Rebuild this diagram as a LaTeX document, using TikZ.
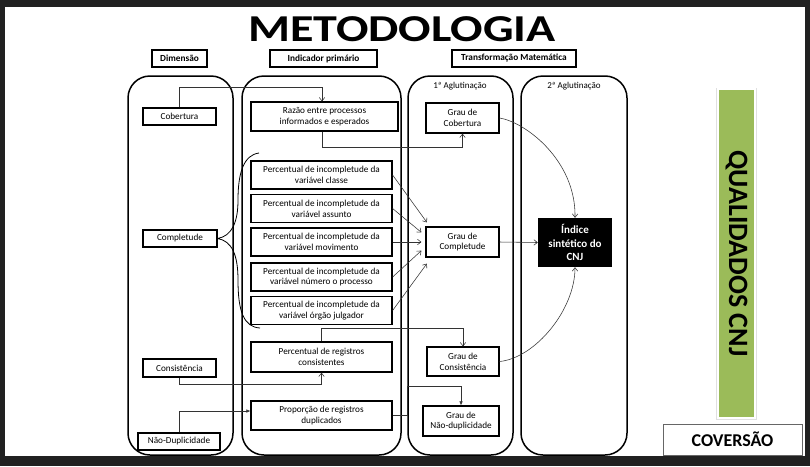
\documentclass[tikz,border=0pt]{standalone}
\usepackage{fontspec}
\usepackage{graphicx}
\setmainfont{Carlito}
\usetikzlibrary{arrows.meta,calc}
\definecolor{barg}{HTML}{9BBB59}
\tikzset{
 bx/.style={draw, line width=1.2pt, fill=white, align=center, inner sep=0pt, font=\fontsize{9.2}{10.8}\selectfont},
 hd/.style={draw, line width=1.2pt, inner sep=0pt, font=\bfseries\fontsize{9.3}{10}\selectfont, minimum height=17pt},
 col/.style={draw, line width=1.5pt, rounded corners=22pt},
 cn/.style={line width=0.55pt, draw=black!80},
 ar/.style={cn, -{Straight Barb[length=3.5pt,width=5.5pt]}},
 arf/.style={cn, -{Latex[length=4pt,width=3.5pt]}},
 lbl/.style={inner sep=0pt, font=\fontsize{9}{10}\selectfont},
}
\begin{document}
\begin{tikzpicture}[x=1pt,y=-1pt]
\useasboundingbox (0,0) rectangle (810,466);
\fill[black!87] (0,0) rectangle (810,466);
\fill[white] (5,7) rectangle (805,456);

% title
\node[inner sep=0pt, anchor=base, font=\bfseries] (title) at (402,41) {\scalebox{1.265}[1]{\fontsize{38}{38}\selectfont METODOLOGIA}};

% headers
\node[hd, minimum width=55pt] (hdim) at (179.5,58.5) {Dimensão};
\node[hd, minimum width=107pt] (hind) at (323.5,58.5) {Indicador primário};
\node[hd, minimum width=124pt] (htm) at (514,58.5) {Transformação Matemática};

% columns
\draw[col] (128,76) rectangle (233,455);
\draw[col] (242,76) rectangle (401,455);
\draw[col] (408,76) rectangle (513,455);
\draw[col] (521,76) rectangle (627,455);
\node[lbl] (ag1) at (460,86) {1ª Aglutinação};
\node[lbl] (ag2) at (574,86) {2ª Aglutinação};

% column 1
\node[bx, minimum width=73pt, minimum height=17pt] (cob) at (179.5,116.5) {Cobertura};
\node[bx, minimum width=74pt, minimum height=17pt] (compl) at (180,238.5) {Completude};
\node[bx, minimum width=73pt, minimum height=18pt] (cons) at (179.5,368) {Consistência};
\node[bx, minimum width=82pt, minimum height=17pt] (ndup) at (179,441.5) {Não-Duplicidade};

% column 2
\node[bx, minimum width=147pt, minimum height=29pt] (razao) at (324.5,116.5) {Razão entre processos\\informados e esperados};
\node[bx, minimum width=141pt, minimum height=28pt] (p1) at (321.5,175) {Percentual de incompletude da\\variável classe};
\node[bx, minimum width=141pt, minimum height=28pt] (p2) at (321.5,208.5) {Percentual de incompletude da\\variável assunto};
\node[bx, minimum width=141pt, minimum height=28pt] (p3) at (321.5,242) {Percentual de incompletude da\\variável movimento};
\node[bx, minimum width=141pt, minimum height=28pt] (p4) at (321.5,277) {Percentual de incompletude da\\variável número o processo};
\node[bx, minimum width=141pt, minimum height=28pt] (p5) at (321.5,310.5) {Percentual de incompletude da\\variável órgão julgador};
\node[bx, minimum width=141pt, minimum height=30pt] (pcons) at (321.5,357) {Percentual de registros\\consistentes};
\node[bx, minimum width=141pt, minimum height=29pt] (prop) at (321.5,415.5) {Proporção de registros\\duplicados};

% column 3
\node[bx, minimum width=73pt, minimum height=30pt] (gcob) at (462.5,118) {Grau de\\Cobertura};
\node[bx, minimum width=73pt, minimum height=30pt] (gcomp) at (462.5,242) {Grau de\\Completude};
\node[bx, minimum width=72pt, minimum height=29pt] (gcons) at (463,361.5) {Grau de\\Consistência};
\node[bx, minimum width=76pt, minimum height=30pt] (gndup) at (461,421) {Grau de\\Não-duplicidade};

% column 4
\node[fill=black, text=white, align=center, inner sep=0pt, minimum width=74pt, minimum height=49pt, font=\bfseries\fontsize{11}{13.5}\selectfont] (idx) at (575,242.5) {Índice\\sintético do\\CNJ};

% right side
\fill[black!12] (716,88) rectangle (757,420);
\node[fill=barg, draw=white, line width=1.5pt, rotate=-90, minimum width=329pt, minimum height=37pt, inner sep=0pt, font=\bfseries\fontsize{28}{28}\selectfont] (bar) at (736.5,253.5) {QUALIDADOS CNJ};
\node[draw=black!60, line width=0.8pt, fill=white, minimum width=139pt, minimum height=31pt, inner sep=0pt, font=\bfseries\fontsize{18}{18}\selectfont] (conv) at (732.5,439.5) {COVERSÃO};

% connectors
\draw[ar] (cob.north) -- ++(0,-20) -| ([xshift=-2.5pt]razao.north);
\draw[ar] ([xshift=-2.5pt]razao.south) -- ++(0,16) -| (gcob.south);

\coordinate (bt) at (259,153);
\coordinate (bb) at (260,328);
\draw[line width=0.8pt] (bt) .. controls (244,155) and (238,172) .. (238,200) .. controls (238,222) and (232,236) .. (compl.east) .. controls (232,241) and (238,255) .. (238,280) .. controls (238,312) and (244,327) .. (bb);

\draw[ar] (p1.east) -- ([shift={(1.5,-4)}]gcomp.north west);
\draw[ar] (p2.east) -- ([shift={(-4,6)}]gcomp.north west);
\draw[ar] (p3.east) -- ([xshift=-4pt]gcomp.west);
\draw[ar] (p4.east) -- ([shift={(-4,-7)}]gcomp.south west);
\draw[ar] (p5.east) -- ([shift={(1.5,6)}]gcomp.south west);

\draw[ar] (gcomp.east) -- (idx.west);
\draw[ar] (gcob.east) .. controls (525,122) and (576,160) .. (idx.north);
\draw[ar] (gcons.east) .. controls (535,358) and (575,310) .. (idx.south);

\draw[ar] (cons.south) -- ++(0,7) -| (pcons.south);
\draw[ar] (pcons.north) -- ++(0,-13) -| (gcons.north);
\draw[arf] (ndup.north) |- ([yshift=4.5pt]prop.west);
\draw[arf] (prop.east) -- ++(15,0) -- ++(0,-29.5) -| (gndup.north);
\end{tikzpicture}
\end{document}
